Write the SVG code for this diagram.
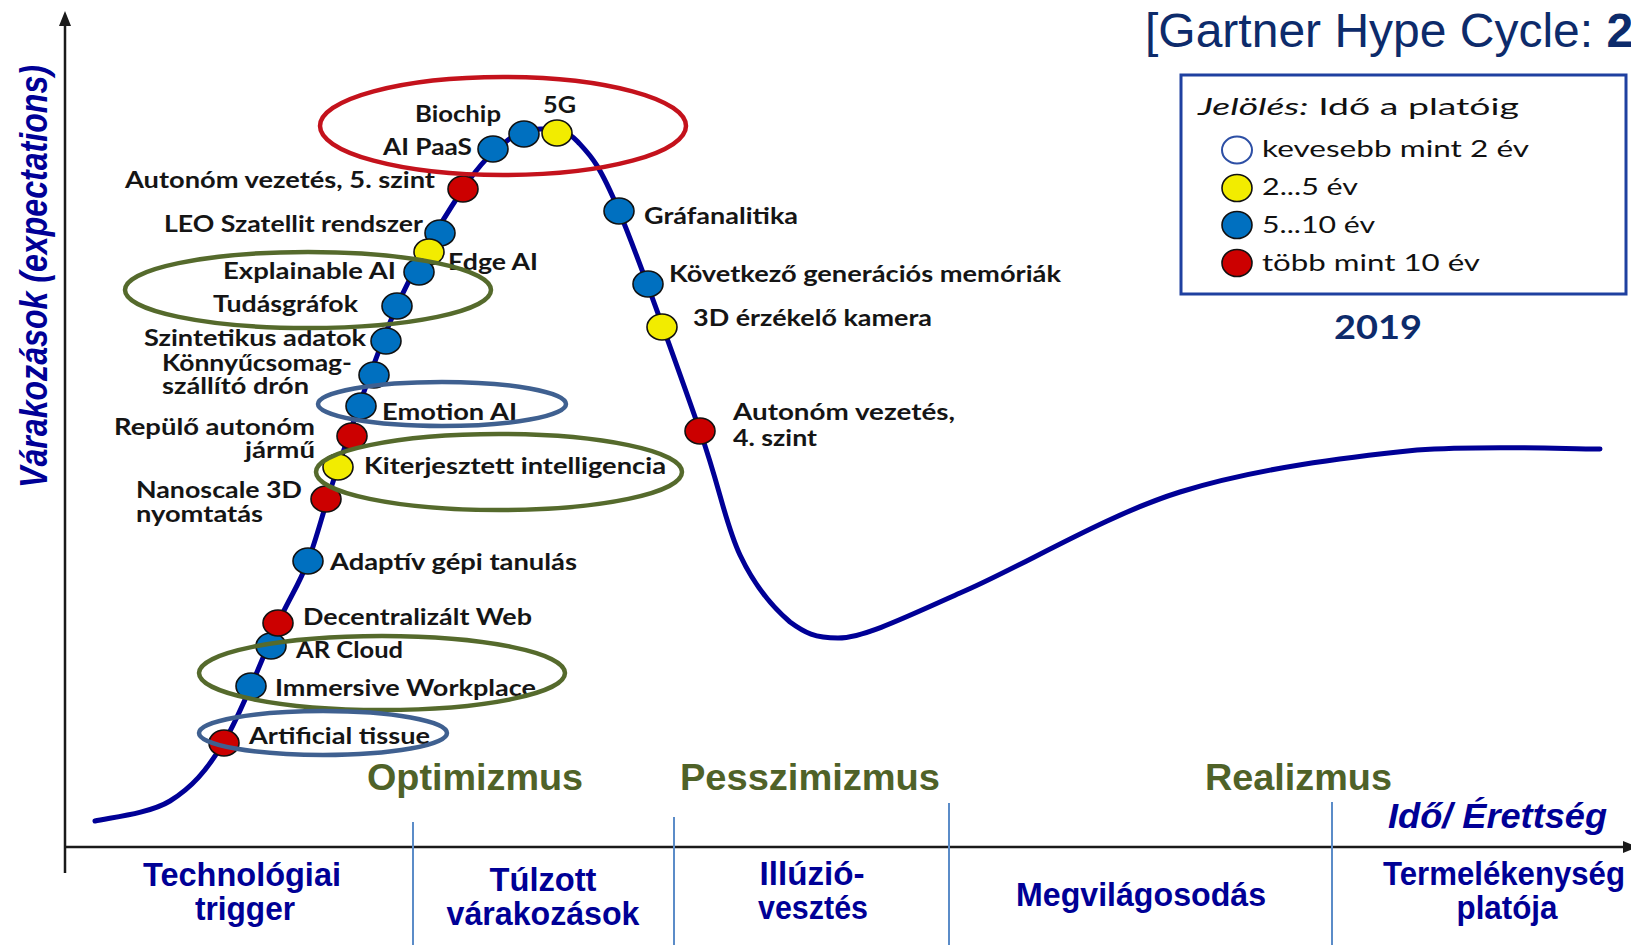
<svg xmlns="http://www.w3.org/2000/svg" width="1631" height="945" viewBox="0 0 1631 945">
  <defs>
    <style>
      .lbl { font-family: Lato, "Open Sans", sans-serif; font-weight: 700; font-size: 23px; fill: #151515; }
      .dot { stroke: #111; stroke-width: 1.6; }
      .b { fill: #0070c0; }
      .y { fill: #f2ec00; }
      .r { fill: #cc0000; }
      .ring { fill: none; stroke-width: 4.5; }
      .red { stroke: #c4121c; }
      .grn { stroke: #556a2c; }
      .blu { stroke: #3f6090; }
      .phase { font-family: "Liberation Sans", Arial, sans-serif; font-weight: 700; font-size: 36px; fill: #4f6228; }
      .stage { font-family: "Liberation Sans", Arial, sans-serif; font-weight: 700; font-size: 33px; fill: #000096; text-anchor: middle; }
      .sep { stroke: #5b8cc8; stroke-width: 2; }
      .axis { stroke: #1a1a1a; stroke-width: 2.5; fill: none; }
      .leg { font-family: Lato, "Open Sans", sans-serif; font-size: 24px; fill: #111; }
    </style>
  </defs>

  <rect width="1631" height="945" fill="#ffffff"/>

  <!-- title -->
  <text x="1145" y="47" font-family="'Liberation Sans', Arial, sans-serif" font-size="48" fill="#0d2b6b">[Gartner Hype Cycle: <tspan font-weight="700">2</tspan></text>

  <!-- legend -->
  <g id="legend">
    <rect x="1181" y="75" width="445" height="219" fill="#ffffff" stroke="#1f40a0" stroke-width="3"/>
    <text x="1198" y="115" class="leg" font-size="26" textLength="321" lengthAdjust="spacingAndGlyphs"><tspan font-style="italic">Jelölés:</tspan> Idő a platóig</text>
    <ellipse cx="1237" cy="150" rx="15" ry="13.5" fill="#ffffff" stroke="#2d4fa5" stroke-width="2"/>
    <text x="1262" y="157" class="leg" textLength="267" lengthAdjust="spacingAndGlyphs">kevesebb mint 2 év</text>
    <ellipse cx="1237" cy="188" rx="15" ry="13.5" class="dot y"/>
    <text x="1262" y="195" class="leg" textLength="96" lengthAdjust="spacingAndGlyphs">2...5 év</text>
    <ellipse cx="1237" cy="225" rx="15" ry="13.5" class="dot b"/>
    <text x="1262" y="233" class="leg" textLength="113" lengthAdjust="spacingAndGlyphs">5...10 év</text>
    <ellipse cx="1237" cy="263" rx="15" ry="13.5" class="dot r"/>
    <text x="1262" y="271" class="leg" textLength="218" lengthAdjust="spacingAndGlyphs">több mint 10 év</text>
    <text x="1378" y="339" font-family="Lato, 'Open Sans', sans-serif" font-weight="700" font-size="32" fill="#0d2b6b" text-anchor="middle" textLength="88" lengthAdjust="spacingAndGlyphs">2019</text>
  </g>

  <!-- axes, stage dividers and the hype curve -->
  <g id="connectors">
    <line x1="65" y1="873" x2="65" y2="24" class="axis"/>
    <polygon points="65,11 59,26 71,26" fill="#1a1a1a"/>
    <line x1="64" y1="847" x2="1624" y2="847" class="axis"/>
    <polygon points="1638,847 1623,841 1623,853" fill="#1a1a1a"/>

    <line x1="413" y1="822" x2="413" y2="945" class="sep"/>
    <line x1="674" y1="817" x2="674" y2="945" class="sep"/>
    <line x1="949" y1="803" x2="949" y2="945" class="sep"/>
    <line x1="1332" y1="802" x2="1332" y2="945" class="sep"/>

    <path id="hype-curve" fill="none" stroke="#000096" stroke-width="5" stroke-linecap="round"
      d="M95,821 C107.5,817.7 148.5,814.2 170,801 C191.5,787.8 206,771.7 224,742 C242,712.3 264,653.2 278,623 C292,592.8 298,587 308,561 C318,535 323.2,509.5 338,467 C352.8,424.5 376.2,352.3 397,306 C417.8,259.7 444.5,216.7 463,189 C481.5,161.3 494.7,150 508,140 C521.3,130 531.3,128.7 543,129 C554.7,129.3 565.3,128.3 578,142 C590.7,155.7 598.7,162.8 619,211 C639.3,259.2 679.8,373.7 700,431 C720.2,488.3 725,523.2 740,555 C755,586.8 774.2,608.5 790,622 C805,633 815,638 838,638 C862,638 900,620 960,593 C1017.5,569 1103.8,515.8 1180,492 C1256.2,468.2 1347,457.2 1417,450 C1487,445 1569.5,449.2 1600,449"/>
  </g>

  <!-- axis titles -->
  <text transform="translate(47,488) rotate(-90)" font-family="'Liberation Sans', Arial, sans-serif" font-weight="700" font-style="italic" font-size="38" fill="#000096" textLength="423" lengthAdjust="spacingAndGlyphs">Várakozások (expectations)</text>
  <text x="1388" y="828" font-family="'Liberation Sans', Arial, sans-serif" font-weight="700" font-style="italic" font-size="35" fill="#000096" textLength="219" lengthAdjust="spacingAndGlyphs">Idő/ Érettség</text>

  <!-- phase labels -->
  <text x="367" y="790" class="phase" textLength="216" lengthAdjust="spacingAndGlyphs">Optimizmus</text>
  <text x="680" y="790" class="phase" textLength="260" lengthAdjust="spacingAndGlyphs">Pesszimizmus</text>
  <text x="1205" y="790" class="phase" textLength="187" lengthAdjust="spacingAndGlyphs">Realizmus</text>

  <!-- stage labels -->
  <g id="stage-trigger">
    <text x="242" y="886" class="stage" textLength="198" lengthAdjust="spacingAndGlyphs">Technológiai</text>
    <text x="245" y="920" class="stage" textLength="100" lengthAdjust="spacingAndGlyphs">trigger</text>
  </g>
  <g id="stage-peak">
    <text x="543" y="891" class="stage" textLength="107" lengthAdjust="spacingAndGlyphs">Túlzott</text>
    <text x="543" y="925" class="stage" textLength="193" lengthAdjust="spacingAndGlyphs">várakozások</text>
  </g>
  <g id="stage-trough">
    <text x="812" y="885" class="stage" textLength="105" lengthAdjust="spacingAndGlyphs">Illúzió-</text>
    <text x="813" y="919" class="stage" textLength="110" lengthAdjust="spacingAndGlyphs">vesztés</text>
  </g>
  <g id="stage-slope">
    <text x="1141" y="906" class="stage" textLength="250" lengthAdjust="spacingAndGlyphs">Megvilágosodás</text>
  </g>
  <g id="stage-plateau">
    <text x="1504" y="885" class="stage" textLength="242" lengthAdjust="spacingAndGlyphs">Termelékenység</text>
    <text x="1507" y="919" class="stage" textLength="101" lengthAdjust="spacingAndGlyphs">platója</text>
  </g>

  <!-- technologies on the curve -->
  <g id="biochip"><ellipse cx="524" cy="134" rx="15" ry="13" class="dot b"/><text x="415" y="122" class="lbl" textLength="86" lengthAdjust="spacingAndGlyphs">Biochip</text></g>
  <g id="fiveg"><ellipse cx="557" cy="133" rx="15" ry="13" class="dot y"/><text x="543" y="113" class="lbl" textLength="33" lengthAdjust="spacingAndGlyphs">5G</text></g>
  <g id="ai-paas"><ellipse cx="493" cy="149" rx="15" ry="13" class="dot b"/><text x="383" y="155" class="lbl" textLength="89" lengthAdjust="spacingAndGlyphs">AI PaaS</text></g>
  <g id="autonom-5"><ellipse cx="463" cy="189" rx="15" ry="13" class="dot r"/><text x="125" y="188" class="lbl" textLength="310" lengthAdjust="spacingAndGlyphs">Autonóm vezetés, 5. szint</text></g>
  <g id="leo"><ellipse cx="440" cy="233" rx="15" ry="13" class="dot b"/><text x="164" y="232" class="lbl" textLength="259" lengthAdjust="spacingAndGlyphs">LEO Szatellit rendszer</text></g>
  <g id="edge-ai"><ellipse cx="429" cy="252" rx="15" ry="13" class="dot y"/><text x="448" y="270" class="lbl" textLength="90" lengthAdjust="spacingAndGlyphs">Edge AI</text></g>
  <g id="explainable-ai"><ellipse cx="419" cy="272" rx="15" ry="13" class="dot b"/><text x="223" y="279" class="lbl" textLength="173" lengthAdjust="spacingAndGlyphs">Explainable AI</text></g>
  <g id="tudasgrafok"><ellipse cx="397" cy="306" rx="15" ry="13" class="dot b"/><text x="213" y="312" class="lbl" textLength="145" lengthAdjust="spacingAndGlyphs">Tudásgráfok</text></g>
  <g id="szintetikus"><ellipse cx="386" cy="341" rx="15" ry="13" class="dot b"/><text x="144" y="346" class="lbl" textLength="222" lengthAdjust="spacingAndGlyphs">Szintetikus adatok</text></g>
  <g id="dron"><ellipse cx="374" cy="375" rx="15" ry="13" class="dot b"/><text x="162" y="371" class="lbl" textLength="190" lengthAdjust="spacingAndGlyphs">Könnyűcsomag-</text><text x="162" y="394" class="lbl" textLength="147" lengthAdjust="spacingAndGlyphs">szállító drón</text></g>
  <g id="emotion-ai"><ellipse cx="361" cy="406" rx="15" ry="13" class="dot b"/><text x="382" y="420" class="lbl" textLength="135" lengthAdjust="spacingAndGlyphs">Emotion AI</text></g>
  <g id="repulo"><ellipse cx="352" cy="436" rx="15" ry="13" class="dot r"/><text x="114" y="435" class="lbl" textLength="201" lengthAdjust="spacingAndGlyphs">Repülő autonóm</text><text x="315" y="458" class="lbl" text-anchor="end" textLength="70" lengthAdjust="spacingAndGlyphs">jármű</text></g>
  <g id="kiterjesztett"><ellipse cx="338" cy="467" rx="15" ry="13" class="dot y"/><text x="364" y="474" class="lbl" textLength="302" lengthAdjust="spacingAndGlyphs">Kiterjesztett intelligencia</text></g>
  <g id="nanoscale"><ellipse cx="326" cy="499" rx="15" ry="13" class="dot r"/><text x="136" y="498" class="lbl" textLength="166" lengthAdjust="spacingAndGlyphs">Nanoscale 3D</text><text x="136" y="522" class="lbl" textLength="127" lengthAdjust="spacingAndGlyphs">nyomtatás</text></g>
  <g id="adaptiv"><ellipse cx="308" cy="561" rx="15" ry="13" class="dot b"/><text x="330" y="570" class="lbl" textLength="247" lengthAdjust="spacingAndGlyphs">Adaptív gépi tanulás</text></g>
  <g id="ar-cloud"><ellipse cx="271" cy="646" rx="15" ry="13" class="dot b"/><text x="296" y="658" class="lbl" textLength="107" lengthAdjust="spacingAndGlyphs">AR Cloud</text></g>
  <g id="decentralizalt"><ellipse cx="278" cy="623" rx="15" ry="13" class="dot r"/><text x="303" y="625" class="lbl" textLength="229" lengthAdjust="spacingAndGlyphs">Decentralizált Web</text></g>
  <g id="immersive"><ellipse cx="251" cy="686" rx="15" ry="13" class="dot b"/><text x="275" y="696" class="lbl" textLength="261" lengthAdjust="spacingAndGlyphs">Immersive Workplace</text></g>
  <g id="artificial-tissue"><ellipse cx="224" cy="743" rx="15" ry="13" class="dot r"/><text x="249" y="744" class="lbl" textLength="181" lengthAdjust="spacingAndGlyphs">Artificial tissue</text></g>
  <g id="grafanalitika"><ellipse cx="619" cy="211" rx="15" ry="13" class="dot b"/><text x="644" y="224" class="lbl" textLength="154" lengthAdjust="spacingAndGlyphs">Gráfanalitika</text></g>
  <g id="memoriak"><ellipse cx="648" cy="284" rx="15" ry="13" class="dot b"/><text x="669" y="282" class="lbl" textLength="392" lengthAdjust="spacingAndGlyphs">Következő generációs memóriák</text></g>
  <g id="kamera"><ellipse cx="662" cy="327" rx="15" ry="13" class="dot y"/><text x="693" y="326" class="lbl" textLength="239" lengthAdjust="spacingAndGlyphs">3D érzékelő kamera</text></g>
  <g id="autonom-4"><ellipse cx="700" cy="431" rx="15" ry="13" class="dot r"/><text x="733" y="420" class="lbl" textLength="222" lengthAdjust="spacingAndGlyphs">Autonóm vezetés,</text><text x="733" y="446" class="lbl" textLength="84" lengthAdjust="spacingAndGlyphs">4. szint</text></g>

  <!-- highlight rings -->
  <g id="highlights">
    <ellipse cx="503" cy="126" rx="183" ry="49" class="ring red"/>
    <ellipse cx="308" cy="290" rx="183" ry="38" class="ring grn"/>
    <ellipse cx="442" cy="404" rx="124" ry="22" class="ring blu"/>
    <ellipse cx="499" cy="472" rx="183" ry="38" class="ring grn"/>
    <ellipse cx="382" cy="673" rx="183" ry="37" class="ring grn"/>
    <ellipse cx="323" cy="733" rx="124" ry="22" class="ring blu"/>
  </g>
</svg>
